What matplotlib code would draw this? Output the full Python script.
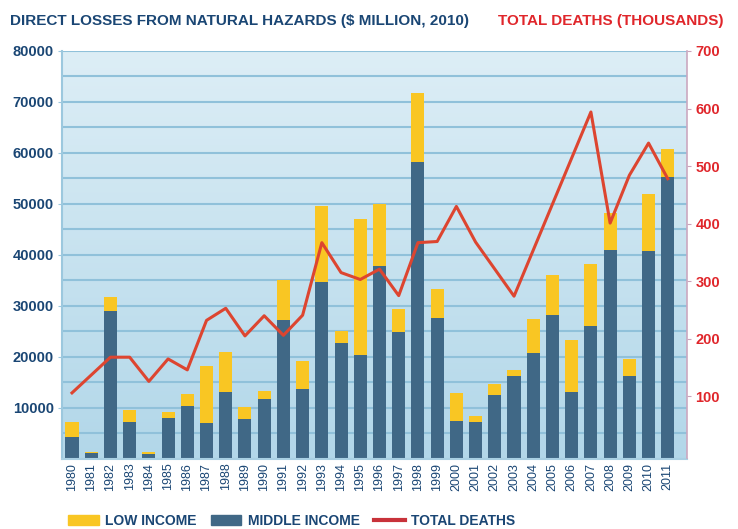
#!/usr/bin/env python3
# -*- coding: utf-8 -*-
"""Direct losses from natural hazards vs total deaths, 1980-2011."""
import numpy as np
import matplotlib
matplotlib.use("Agg")
import matplotlib.pyplot as plt
from matplotlib.patches import Patch
from matplotlib.lines import Line2D

plt.rcParams["font.family"] = ["Liberation Sans", "DejaVu Sans"]

years = list(range(1980, 2012))
# $ million
middle_income = [4250, 1000, 28900, 7200, 850, 8000, 10300, 7050, 13100, 7850,
                 11600, 27250, 13600, 34600, 22700, 20300, 37750, 24800, 58200, 27600,
                 7400, 7100, 12550, 16100, 20800, 28100, 13100, 26000, 41000, 16100,
                 40750, 55250]
total_losses = [7200, 1300, 31800, 9500, 1300, 9150, 12600, 18200, 20900, 10100,
                13200, 35100, 19150, 49600, 25000, 47100, 50000, 29300, 71800, 33300,
                12900, 8400, 14600, 17400, 27450, 35950, 23200, 38250, 48200, 19600,
                52000, 60800]
low_income = [t - m for t, m in zip(total_losses, middle_income)]
# thousands
total_deaths = [106, 137, 168, 168, 126, 165, 146, 232, 253, 205,
                240, 206, 241, 367, 315, 303, 321, 275, 367, 369,
                430, 368, 321, 274, 354, 434, 514, 594, 401, 484,
                540, 478]

NAVY_TXT = "#1a4674"
RED_TXT = "#e0262b"
BAR_MID = "#406886"
BAR_LOW = "#f9c623"
LINE_RED = "#dd4530"

fig = plt.figure(figsize=(7.38, 5.29), dpi=100)
ax = fig.add_axes([62 / 738, 1 - 458.5 / 529, (687 - 62) / 738, (458.5 - 51) / 529])

xlim = (1979.48, 2012.0)
ylim = (0, 80000)
ax.set_xlim(*xlim); ax.set_ylim(*ylim)

# light blue background, paler at the top
grad = np.linspace(0, 1, 256)[:, None]
top = np.array([221, 238, 246]) / 255.0
bot = np.array([178, 215, 233]) / 255.0
img = top[None, None, :] * (1 - grad[..., None]) + bot[None, None, :] * grad[..., None]
ax.imshow(img, extent=(xlim[0], xlim[1], ylim[0], ylim[1]), aspect="auto",
          origin="upper", zorder=0, interpolation="bilinear")

for yv in range(5000, 80001, 5000):
    ax.axhline(yv, color="#90c1da", lw=1.5, zorder=1)

w = 0.68
ax.bar(years, middle_income, width=w, color=BAR_MID, zorder=2)
ax.bar(years, low_income, width=w, bottom=middle_income, color=BAR_LOW, zorder=2)

ax.set_yticks(range(10000, 80001, 10000))
ax.set_yticklabels([str(v) for v in range(10000, 80001, 10000)],
                   fontsize=10.5, fontweight="bold", color=NAVY_TXT)
ax.tick_params(axis="y", length=3, color="#9cc8de", pad=3)
ax.set_xticks(years)
ax.set_xticklabels([str(y) for y in years], rotation=90, fontsize=9, color=NAVY_TXT)
ax.tick_params(axis="x", length=0, pad=3)
for s in ("top", "right"):
    ax.spines[s].set_visible(False)
ax.spines["left"].set_color("#9cc8de"); ax.spines["left"].set_linewidth(1.5)
ax.spines["bottom"].set_color("#a9d0e3"); ax.spines["bottom"].set_linewidth(1.5)

ax2 = ax.twinx()
ax2.set_ylim(-8, 700)
ax2.plot(years, total_deaths, color=LINE_RED, lw=2.2, zorder=5)
ax2.set_yticks(range(100, 701, 100))
ax2.set_yticklabels([str(v) for v in range(100, 701, 100)],
                    fontsize=10.5, fontweight="bold", color=RED_TXT)
ax2.tick_params(axis="y", length=3, color="#c9a3bb", pad=3)
for s in ("top", "left", "bottom"):
    ax2.spines[s].set_visible(False)
ax2.spines["right"].set_color("#cba8c0"); ax2.spines["right"].set_linewidth(1.2)

fig.text(10 / 738, 1 - 21 / 529, "DIRECT LOSSES FROM NATURAL HAZARDS ($ MILLION, 2010)",
         fontsize=11, fontweight="bold", color=NAVY_TXT, ha="left", va="center")
fig.text(723 / 738, 1 - 21 / 529, "TOTAL DEATHS (THOUSANDS)",
         fontsize=11, fontweight="bold", color=RED_TXT, ha="right", va="center")

handles = [Patch(color=BAR_LOW, label="LOW INCOME"),
           Patch(color=BAR_MID, label="MIDDLE INCOME"),
           Line2D([], [], color="#c8323a", lw=3, label="TOTAL DEATHS")]
leg = fig.legend(handles=handles, loc="center left", bbox_to_anchor=(68 / 738, 8 / 529),
                 ncol=3, frameon=False, fontsize=10, handlelength=2.2, handleheight=0.8,
                 handletextpad=0.45, columnspacing=1.05, borderpad=0, borderaxespad=0)
for t in leg.get_texts():
    t.set_color(NAVY_TXT); t.set_fontweight("bold")

fig.savefig("out.png", dpi=100)
print("[out] out.png")
